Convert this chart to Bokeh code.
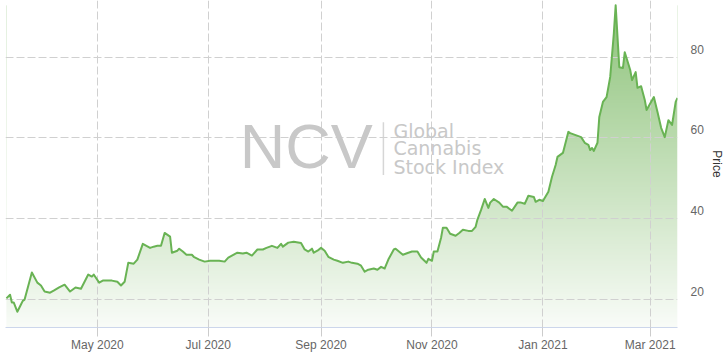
import numpy as np
import pandas as pd
from bokeh.plotting import figure
from bokeh.models import Range1d, FixedTicker, Label, DatetimeTickFormatter
from bokeh.embed import file_html
from bokeh.resources import INLINE

# ---------------- data ----------------
dates = [
    "2020-03-12", "2020-03-14", "2020-03-15", "2020-03-16", "2020-03-18", "2020-03-20",
    "2020-03-21", "2020-03-22", "2020-03-26", "2020-03-29", "2020-03-31", "2020-04-02",
    "2020-04-05", "2020-04-07", "2020-04-10", "2020-04-13", "2020-04-16", "2020-04-19",
    "2020-04-22", "2020-04-26", "2020-04-28", "2020-04-29", "2020-05-02", "2020-05-04",
    "2020-05-09", "2020-05-12", "2020-05-14", "2020-05-16", "2020-05-18", "2020-05-21",
    "2020-05-23", "2020-05-26", "2020-05-28", "2020-05-30", "2020-06-01", "2020-06-03",
    "2020-06-05", "2020-06-07", "2020-06-10", "2020-06-11", "2020-06-14", "2020-06-15",
    "2020-06-17", "2020-06-19", "2020-06-22", "2020-06-23", "2020-06-26", "2020-06-29",
    "2020-07-02", "2020-07-05", "2020-07-07", "2020-07-10", "2020-07-12", "2020-07-14",
    "2020-07-17", "2020-07-20", "2020-07-22", "2020-07-25", "2020-07-28", "2020-07-31",
    "2020-08-02", "2020-08-05", "2020-08-08", "2020-08-10", "2020-08-11", "2020-08-14",
    "2020-08-17", "2020-08-21", "2020-08-23", "2020-08-25", "2020-08-27", "2020-08-28",
    "2020-08-30", "2020-09-01", "2020-09-03", "2020-09-05", "2020-09-08", "2020-09-10",
    "2020-09-13", "2020-09-16", "2020-09-18", "2020-09-21", "2020-09-23", "2020-09-25",
    "2020-09-27", "2020-09-30", "2020-10-02", "2020-10-04", "2020-10-06", "2020-10-08",
    "2020-10-11", "2020-10-12", "2020-10-16", "2020-10-19", "2020-10-21", "2020-10-24",
    "2020-10-26", "2020-10-29", "2020-10-30", "2020-11-01", "2020-11-02", "2020-11-04",
    "2020-11-06", "2020-11-07", "2020-11-09", "2020-11-11", "2020-11-14", "2020-11-16",
    "2020-11-18", "2020-11-21", "2020-11-23", "2020-11-25", "2020-11-26", "2020-11-28",
    "2020-11-30", "2020-12-02", "2020-12-03", "2020-12-05", "2020-12-08", "2020-12-10",
    "2020-12-12", "2020-12-15", "2020-12-18", "2020-12-20", "2020-12-22", "2020-12-24",
    "2020-12-27", "2020-12-28", "2020-12-30", "2021-01-01", "2021-01-04", "2021-01-06",
    "2021-01-08", "2021-01-09", "2021-01-12", "2021-01-15", "2021-01-16", "2021-01-19",
    "2021-01-22", "2021-01-24", "2021-01-26", "2021-01-27", "2021-01-28", "2021-01-29",
    "2021-01-31", "2021-02-01", "2021-02-03", "2021-02-05", "2021-02-07", "2021-02-09",
    "2021-02-10", "2021-02-12", "2021-02-14", "2021-02-15", "2021-02-18", "2021-02-19",
    "2021-02-21", "2021-02-22", "2021-02-24", "2021-02-26", "2021-02-27", "2021-03-03",
    "2021-03-05", "2021-03-07", "2021-03-09", "2021-03-11", "2021-03-13", "2021-03-15",
    "2021-03-16",
]
prices = [
    20.3, 21.2, 19.3, 19.3, 17.0, 18.8,
    19.7, 20.0, 26.7, 24.2, 23.5, 22.0,
    21.7, 22.2, 23.0, 23.7, 22.0, 23.0,
    22.7, 26.2, 25.7, 26.2, 24.2, 24.7,
    24.7, 24.4, 23.5, 24.4, 29.1, 28.9,
    29.9, 33.8, 33.3, 32.8, 33.1, 33.3,
    33.3, 36.5, 35.6, 31.6, 32.1, 32.6,
    31.9, 31.1, 31.1, 30.6, 29.9, 29.4,
    29.6, 29.6, 29.6, 29.4, 30.4, 30.9,
    31.6, 31.4, 31.6, 30.9, 32.4, 32.4,
    32.8, 33.3, 32.8, 33.8, 33.1, 34.1,
    34.3, 34.0, 32.4, 31.9, 32.6, 31.6,
    32.1, 32.8, 32.1, 30.6, 29.9, 29.6,
    29.1, 29.4, 29.1, 28.9, 28.4, 26.9,
    27.4, 27.7, 27.4, 28.1, 27.7, 29.9,
    32.4, 32.6, 31.1, 31.6, 31.9, 31.9,
    30.4, 29.1, 30.1, 29.6, 31.9, 31.9,
    35.3, 37.8, 37.8, 36.3, 35.8, 36.5,
    37.3, 37.0, 37.0, 38.0, 39.8, 42.2,
    44.9, 42.7, 44.0, 44.9, 44.0, 43.0,
    43.0, 42.0, 44.0, 44.0, 43.7, 45.7,
    45.4, 44.2, 44.7, 44.4, 46.7, 50.4,
    53.3, 55.3, 56.3, 61.5, 61.2, 60.7,
    60.2, 58.8, 58.3, 57.0, 57.5, 56.8,
    58.8, 65.2, 68.9, 70.1, 75.1, 85.9,
    92.8, 77.5, 77.3, 81.2, 76.8, 74.3,
    76.3, 72.4, 72.8, 69.4, 66.9, 70.1,
    66.4, 62.5, 60.2, 64.4, 63.2, 68.9,
    69.9,
]
x_tick_dates = ["2020-05-01", "2020-07-01", "2020-09-01", "2020-11-01", "2021-01-01", "2021-03-01"]
x_tick_labels = ["May 2020", "Jul 2020", "Sep 2020", "Nov 2020", "Jan 2021", "Mar 2021"]
y_ticks = [20, 40, 60, 80]
y_tick_labels = ["20", "40", "60", "80"]
y_title = "Price"
watermark_big = "NCV"
watermark_lines = ["Global", "Cannabis", "Stock Index"]

# ---------------- helpers ----------------
DAY = 86400000.0


def ms(s):
    return pd.Timestamp(s).value / 1e6


xs = np.array([ms(d) for d in dates])
ys = np.array(prices, dtype=float)
x_ticks = [ms(d) for d in x_tick_dates]

W, H = 727, 354
Y_MIN, Y_MAX = 13.1, 94.0
LABEL_SHIFT = 2.0   # y labels sit a little above their grid line, as in the reference

p = figure(width=W, height=H, x_axis_type="datetime", y_axis_location="right",
           x_range=Range1d(xs[0] - 0.5 * DAY, xs[-1]), y_range=Range1d(Y_MIN, Y_MAX),
           output_backend="svg", toolbar_location=None,
           min_border_left=5, min_border_right=50,
           min_border_top=0, min_border_bottom=0)
p.outline_line_color = None
p.background_fill_color = "white"
p.border_fill_color = "white"

# ---------------- gradient area (gradient image masked above the line) ----------------
n_rows = 256
t = np.linspace(0.0, 1.0, n_rows)
alpha = 0.04 + 0.72 * t
base = np.array([106.0, 176.0, 80.0])
rgb = 255.0 - alpha[:, None] * (255.0 - base[None, :])
img = np.zeros((n_rows, 1), dtype=np.uint32)
view = img.view(dtype=np.uint8).reshape((n_rows, 1, 4))
view[:, 0, 0] = rgb[:, 0].astype(np.uint8)
view[:, 0, 1] = rgb[:, 1].astype(np.uint8)
view[:, 0, 2] = rgb[:, 2].astype(np.uint8)
view[:, 0, 3] = 255
top_val = float(ys.max())
p.image_rgba(image=[img], x=xs[0], y=Y_MIN, dw=xs[-1] - xs[0], dh=top_val - Y_MIN, level="image")
p.varea(x=xs, y1=ys, y2=Y_MAX + 10, fill_color="white", level="image")

# ---------------- line ----------------
p.line(xs, ys, line_color="#69b354", line_width=2, line_join="round")

# ---------------- grid ----------------
p.ygrid.ticker = FixedTicker(ticks=y_ticks)
p.xgrid.ticker = FixedTicker(ticks=x_ticks)
for g in (p.xgrid, p.ygrid):
    g.grid_line_color = "#d0d0d0"
    g.grid_line_dash = "8 3"
    g.grid_line_width = 1

# ---------------- x axis ----------------
xa = p.xaxis[0]
xa.ticker = FixedTicker(ticks=x_ticks)
xa.formatter = DatetimeTickFormatter(days="%b %Y", months="%b %Y", years="%b %Y")
xa.major_label_overrides = {tk: lb for tk, lb in zip(x_ticks, x_tick_labels)}
xa.axis_line_color = "#ccd6eb"
xa.major_tick_line_color = "#cccccc"
xa.major_tick_in = 0
xa.major_tick_out = 9
xa.minor_tick_line_color = None
xa.major_label_standoff = 1
xa.major_label_text_font = "Liberation Sans"
xa.major_label_text_font_size = "12px"
xa.major_label_text_color = "#666666"

# ---------------- y axis (right) ----------------
lab_ticks = [v + LABEL_SHIFT for v in y_ticks]
ya = p.yaxis[0]
ya.ticker = FixedTicker(ticks=lab_ticks)
ya.major_label_overrides = {tk: lb for tk, lb in zip(lab_ticks, y_tick_labels)}
ya.axis_line_color = None
ya.major_tick_line_color = None
ya.major_tick_in = 0
ya.major_tick_out = 0
ya.minor_tick_line_color = None
ya.minor_tick_in = 0
ya.minor_tick_out = 0
ya.major_label_text_font = "Liberation Sans"
ya.major_label_text_font_size = "12px"
ya.major_label_text_color = "#666666"
ya.major_label_standoff = 13
ya.axis_label = y_title
ya.axis_label_text_font = "Liberation Sans"
ya.axis_label_text_font_size = "12px"
ya.axis_label_text_font_style = "normal"
ya.axis_label_text_color = "#333333"
ya.axis_label_standoff = 3

# ---------------- watermark ----------------
WM_COLOR = "#c8c8c8"
p.add_layout(Label(x=ms("2020-07-18 06:00"), y=58.0, text=watermark_big, text_font="Liberation Sans",
                   text_font_size="63px", text_color=WM_COLOR, text_baseline="alphabetic",
                   level="underlay"))
p.segment(x0=[ms("2020-10-05 07:00")], y0=[50.8], x1=[ms("2020-10-05 07:00")], y1=[63.9],
          line_color="#d6d6d6", line_width=1.5, level="underlay")
for txt, yy in zip(watermark_lines, [61.7, 57.4, 52.8]):
    p.add_layout(Label(x=ms("2020-10-10 19:00"), y=yy, text=txt, text_font="DejaVu Sans",
                       text_font_size="19px", text_color=WM_COLOR, text_baseline="alphabetic",
                       level="underlay"))

open("out.html", "w").write(file_html(p, INLINE))
